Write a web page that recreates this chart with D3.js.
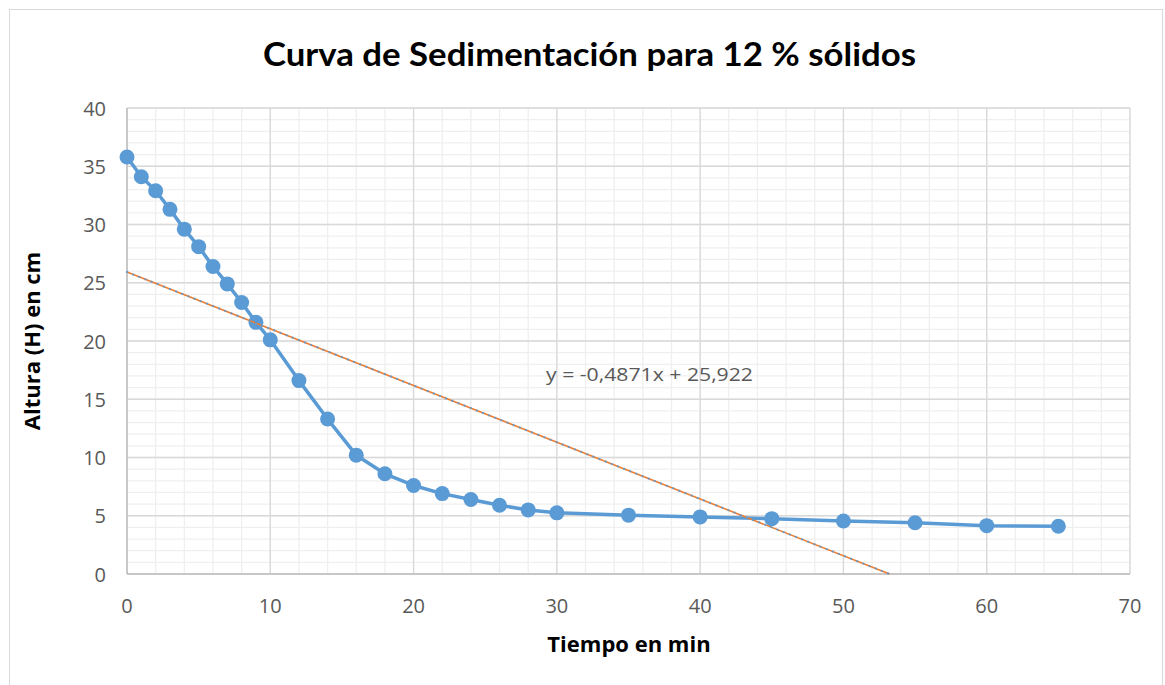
<!DOCTYPE html>
<html><head><meta charset="utf-8">
<script src="https://cdn.jsdelivr.net/npm/d3@7"></script>
<style>body{margin:0;background:#fff;}svg{display:block;}</style>
</head><body>
<script>
const tiempo = [0,1,2,3,4,5,6,7,8,9,10,12,14,16,18,20,22,24,26,28,30,35,40,45,50,55,60,65];
const altura = [35.8,34.1,32.9,31.3,29.6,28.1,26.4,24.9,23.3,21.6,20.1,16.6,13.3,10.2,8.6,7.6,6.9,6.4,5.9,5.5,5.25,5.05,4.9,4.75,4.55,4.4,4.15,4.1];
const trendSlope = -0.4871, trendIntercept = 25.922;
const xTicks = [0,10,20,30,40,50,60,70];
const yTicks = [0,5,10,15,20,25,30,35,40];
const title = "Curva de Sedimentación para 12 % sólidos";
const xTitle = "Tiempo en min";
const yTitle = "Altura (H) en cm";
const eqLabel = "y = -0,4871x + 25,922";

const W = 1165, H = 685;
const svg = d3.select("body").append("svg").attr("width", W).attr("height", H);
svg.append("rect").attr("x",9.5).attr("y",9.5).attr("width",1153).attr("height",680).attr("fill","#fff").attr("stroke","#d9d9d9");

const x = d3.scaleLinear().domain([0,70]).range([127,1130]);
const y = d3.scaleLinear().domain([0,40]).range([574,108]);
const font = "'Open Sans', sans-serif";
const tfont = "Lato, sans-serif";

// minor gridlines
svg.append("g").selectAll("line").data(d3.range(0,71,2)).join("line")
  .attr("x1",d=>x(d)).attr("x2",d=>x(d)).attr("y1",y(0)).attr("y2",y(40))
  .attr("stroke","#efefef").attr("stroke-width",1.3);
svg.append("g").selectAll("line").data(d3.range(0,41,1)).join("line")
  .attr("x1",x(0)).attr("x2",x(70)).attr("y1",d=>y(d)).attr("y2",d=>y(d))
  .attr("stroke","#efefef").attr("stroke-width",1.3);
// major gridlines
svg.append("g").selectAll("line").data(xTicks).join("line")
  .attr("x1",d=>x(d)).attr("x2",d=>x(d)).attr("y1",y(0)).attr("y2",y(40))
  .attr("stroke","#d9d9d9").attr("stroke-width",1.3);
svg.append("g").selectAll("line").data(yTicks).join("line")
  .attr("x1",x(0)).attr("x2",x(70)).attr("y1",d=>y(d)).attr("y2",d=>y(d))
  .attr("stroke","#d9d9d9").attr("stroke-width",1.3);
// axis lines
svg.append("line").attr("x1",x(0)).attr("x2",x(70)).attr("y1",y(0)).attr("y2",y(0)).attr("stroke","#bfbfbf").attr("stroke-width",1.5);
svg.append("line").attr("x1",x(0)).attr("x2",x(0)).attr("y1",y(0)).attr("y2",y(40)).attr("stroke","#bfbfbf").attr("stroke-width",1.5);

// tick labels
svg.append("g").selectAll("text").data(xTicks).join("text")
  .attr("x",d=>x(d)).attr("y",613).attr("text-anchor","middle")
  .attr("font-family",font).attr("font-size",20).attr("fill","#595959").text(d=>d);
svg.append("g").selectAll("text").data(yTicks).join("text")
  .attr("x",106).attr("y",d=>y(d)+7.5).attr("text-anchor","end")
  .attr("font-family",font).attr("font-size",20).attr("fill","#595959").text(d=>d);

// data line
const pts = tiempo.map((t,i)=>[t,altura[i]]);
svg.append("path").datum(pts)
  .attr("d", d3.line().x(d=>x(d[0])).y(d=>y(d[1])))
  .attr("fill","none").attr("stroke","#5B9BD5").attr("stroke-width",3.5).attr("stroke-linejoin","round");
svg.append("g").selectAll("circle").data(pts).join("circle")
  .attr("cx",d=>x(d[0])).attr("cy",d=>y(d[1])).attr("r",7.5).attr("fill","#5B9BD5");

// trendline
const xEnd = -trendIntercept/trendSlope;
const tr = [[0,trendIntercept],[xEnd,0]];
const tl = d3.line().x(d=>x(d[0])).y(d=>y(d[1]));
svg.append("path").datum(tr).attr("d",tl).attr("stroke","#ED7D31").attr("stroke-width",1.6).attr("fill","none");
svg.append("path").datum(tr).attr("d",tl).attr("stroke","#5B9BD5").attr("stroke-width",2.2).attr("fill","none")
  .attr("stroke-dasharray","0.1 6.5").attr("stroke-linecap","round").attr("opacity",0.85);

svg.append("text").attr("x",546).attr("y",381).attr("font-family",font).attr("font-size",19)
  .attr("textLength",207).attr("lengthAdjust","spacingAndGlyphs").attr("fill","#595959").text(eqLabel);

// titles
svg.append("text").attr("x",263).attr("y",66)
  .attr("font-family",tfont).attr("font-weight","bold").attr("font-size",33)
  .attr("textLength",653).attr("lengthAdjust","spacingAndGlyphs").attr("fill","#000").text(title);
svg.append("text").attr("x",629).attr("y",652).attr("text-anchor","middle")
  .attr("font-family",font).attr("font-weight","bold").attr("font-size",22).attr("fill","#000").text(xTitle);
svg.append("text").attr("transform","translate(40,341) rotate(-90)").attr("text-anchor","middle")
  .attr("font-family",font).attr("font-weight","bold").attr("font-size",22).attr("fill","#000").text(yTitle);
</script>
</body></html>
